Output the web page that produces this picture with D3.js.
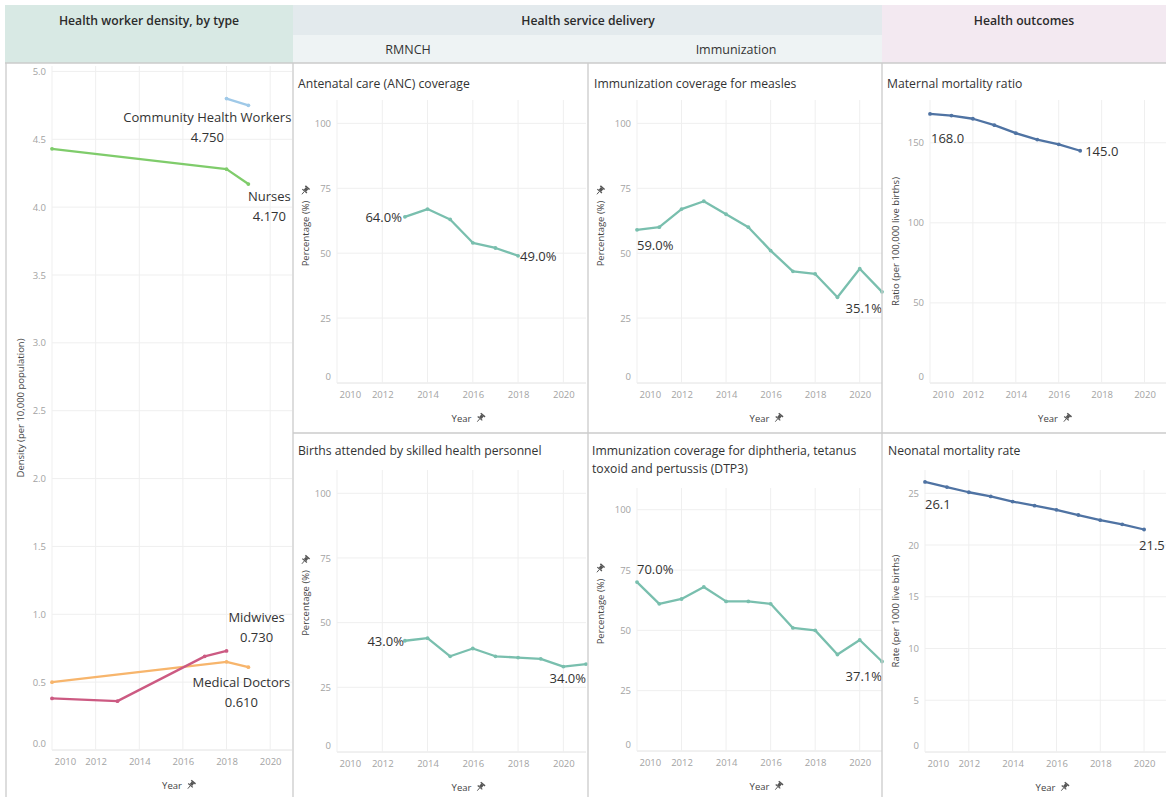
<!DOCTYPE html>
<html>
<head>
<meta charset="utf-8">
<script src="https://cdn.jsdelivr.net/npm/d3@7"></script>
<style>
  body { margin: 0; background: #fff; }
  text { font-family: "Open Sans", sans-serif; }
</style>
</head>
<body>
<svg id="chart" width="1166" height="797"></svg>
<script>
// tick labels
const yearTicks = [2010, 2012, 2014, 2016, 2018, 2020];
const pctTicks = [0, 25, 50, 75, 100];
const densityTicks = [0, 0.5, 1, 1.5, 2, 2.5, 3, 3.5, 4, 4.5, 5];
const mmrTicks = [0, 50, 100, 150];
const nmrTicks = [0, 5, 10, 15, 20, 25];

// health worker density (per 10,000)
const nurseYears = [2010, 2018, 2019];
const nurseValues = [4.43, 4.28, 4.17];
const chwYears = [2018, 2019];
const chwValues = [4.80, 4.75];
const midwifeYears = [2010, 2013, 2017, 2018];
const midwifeValues = [0.38, 0.36, 0.69, 0.73];
const doctorYears = [2010, 2018, 2019];
const doctorValues = [0.50, 0.65, 0.61];

// service delivery (%)
const ancYears = [2013, 2014, 2015, 2016, 2017, 2018];
const ancValues = [64, 67, 63, 54, 52, 49];
const measlesYears = [2010, 2011, 2012, 2013, 2014, 2015, 2016, 2017, 2018, 2019, 2020, 2021];
const measlesValues = [59, 60, 67, 70, 65, 60, 51, 43, 42, 33, 44, 35.1];
const birthsYears = [2013, 2014, 2015, 2016, 2017, 2018, 2019, 2020, 2021];
const birthsValues = [43, 44, 37, 40, 37, 36.5, 36, 33, 34];
const dtp3Years = [2010, 2011, 2012, 2013, 2014, 2015, 2016, 2017, 2018, 2019, 2020, 2021];
const dtp3Values = [70, 61, 63, 68, 62, 62, 61, 51, 50, 40, 46, 37.1];

// outcomes
const mmrYears = [2010, 2011, 2012, 2013, 2014, 2015, 2016, 2017];
const mmrValues = [168, 167, 165, 161, 156, 152, 149, 145];
const nmrYears = [2010, 2011, 2012, 2013, 2014, 2015, 2016, 2017, 2018, 2019, 2020];
const nmrValues = [26.1, 25.6, 25.1, 24.7, 24.2, 23.8, 23.4, 22.9, 22.4, 22.0, 21.5];

const svg = d3.select("#chart");
const teal = "#79bfae", blue = "#4f73a3";
const fmtPct = v => d3.format(".1f")(v) + "%";
const fmt1 = d3.format(".1f");
const fmt3 = d3.format(".3f");

// header bands
svg.append("rect").attr("x", 5).attr("y", 5).attr("width", 288).attr("height", 58).attr("fill", "#d8e9e4");
svg.append("rect").attr("x", 293).attr("y", 5).attr("width", 589).attr("height", 30).attr("fill", "#e3eaed");
svg.append("rect").attr("x", 293).attr("y", 35).attr("width", 589).attr("height", 28).attr("fill", "#eef3f4");
svg.append("rect").attr("x", 882).attr("y", 5).attr("width", 284).attr("height", 58).attr("fill", "#f3e9f1");

function header(txt, x, y) {
  svg.append("text").attr("x", x).attr("y", y).attr("text-anchor", "middle")
    .attr("dominant-baseline", "central").attr("font-size", 12.2).attr("font-weight", 600)
    .attr("fill", "#2b2b2b").text(txt);
}
header("Health worker density, by type", 149, 20);
header("Health service delivery", 588, 20);
header("Health outcomes", 1024, 20);
svg.append("text").attr("x", 408).attr("y", 49).attr("text-anchor", "middle")
  .attr("dominant-baseline", "central").attr("font-size", 12.5).attr("fill", "#333").text("RMNCH");
svg.append("text").attr("x", 736).attr("y", 49).attr("text-anchor", "middle")
  .attr("dominant-baseline", "central").attr("font-size", 12.5).attr("fill", "#333").text("Immunization");

// little pushpin icon like tableau's
function pin(g, x, y) {
  const p = g.append("g").attr("transform", `translate(${x},${y}) rotate(40)`).attr("fill", "#555");
  p.append("rect").attr("x", -2.8).attr("y", -4.6).attr("width", 5.6).attr("height", 1.5);
  p.append("rect").attr("x", -1.6).attr("y", -3.2).attr("width", 3.2).attr("height", 3.2);
  p.append("rect").attr("x", -3).attr("y", 0).attr("width", 6).attr("height", 1.2);
  p.append("line").attr("x1", 0).attr("x2", 0).attr("y1", 1.2).attr("y2", 4.8)
    .attr("stroke", "#555").attr("stroke-width", 0.9);
}

function panel(p) {
  const g = svg.append("g");
  const x = d3.scaleLinear().domain([2010, 2021]).range([p.left, p.right]);
  const y = d3.scaleLinear().domain([0, p.yMax]).range([p.base, p.top]);

  // title
  p.title.forEach((t, i) => {
    g.append("text").attr("x", p.titleX).attr("y", p.titleY + i * 18)
      .attr("dominant-baseline", "central").attr("font-size", 12.2).attr("fill", "#333").text(t);
  });

  // grid
  g.append("g").selectAll("line").data(p.yTicks).join("line")
    .attr("x1", p.left).attr("x2", p.right).attr("y1", d => y(d)).attr("y2", d => y(d))
    .attr("stroke", d => d === 0 ? "#e2e2e2" : "#efefef");
  g.append("g").selectAll("line").data(yearTicks).join("line")
    .attr("x1", d => x(d)).attr("x2", d => x(d)).attr("y1", p.top).attr("y2", p.base)
    .attr("stroke", "#efefef");

  // y axis
  const ya = g.append("g").attr("transform", `translate(${p.left - 6},0)`)
    .call(d3.axisLeft(y).tickValues(p.yTicks).tickSize(0).tickPadding(0).tickFormat(p.fmt));
  ya.select(".domain").remove();
  ya.selectAll("text").attr("fill", "#a3a3a3").attr("font-size", 9.5).attr("font-family", "Open Sans");
  ya.selectAll(".tick").filter(d => d === 0).select("text").attr("dy", "-0.4em");

  // x axis
  const xa = g.append("g").attr("transform", `translate(0,${p.base + 8})`)
    .call(d3.axisBottom(x).tickValues(yearTicks).tickSize(0).tickPadding(0).tickFormat(d3.format("d")));
  xa.select(".domain").remove();
  xa.selectAll("text").attr("fill", "#a3a3a3").attr("font-size", 9.5).attr("font-family", "Open Sans");
  xa.selectAll(".tick").filter(d => d === 2010).select("text").attr("text-anchor", "start").attr("dx", 2);

  // x title
  const cx = (p.left + p.right) / 2;
  const yt = g.append("text").attr("x", cx).attr("y", p.base + 35).attr("text-anchor", "middle")
    .attr("dominant-baseline", "central").attr("font-size", 9.5).attr("fill", "#444").text("Year");
  pin(g, cx + yt.node().getComputedTextLength() / 2 + 9, p.base + 35);

  // y title
  const cy = (p.top + p.base) / 2 - (p.yPin ? 8 : 0);
  const vt = g.append("text").attr("transform", `translate(${p.yTitleX},${cy}) rotate(-90)`)
    .attr("text-anchor", "middle").attr("dominant-baseline", "central")
    .attr("font-size", 9.5).attr("fill", "#444").text(p.yTitle);
  if (p.yPin) pin(g, p.yTitleX, cy - vt.node().getComputedTextLength() / 2 - 10);

  // series
  p.series.forEach(s => {
    const pts = s.years.map((yr, i) => [yr, s.values[i]]);
    g.append("path").datum(pts)
      .attr("d", d3.line().x(d => x(d[0])).y(d => y(d[1])))
      .attr("fill", "none").attr("stroke", s.color).attr("stroke-width", 2.3)
      .attr("stroke-linejoin", "round").attr("stroke-linecap", "round");
    g.append("g").selectAll("circle").data(pts).join("circle")
      .attr("cx", d => x(d[0])).attr("cy", d => y(d[1])).attr("r", 1.9).attr("fill", s.color);
    s.labels.forEach(l => {
      const d = pts[l.i];
      const lines = l.text(d[1]);
      lines.forEach((t, k) => {
        g.append("text").attr("x", x(d[0]) + l.dx).attr("y", y(d[1]) + l.dy + k * 20)
          .attr("text-anchor", l.anchor).attr("dominant-baseline", "central")
          .attr("font-size", 13).attr("fill", "#333").text(t);
      });
    });
  });
}

// left: health worker density
panel({
  left: 52, right: 292, top: 66, base: 750, yMax: 5.04,
  yTicks: densityTicks, fmt: d3.format(".1f"),
  title: [], titleX: 0, titleY: 0,
  yTitle: "Density (per 10,000 population)", yTitleX: 20, yPin: false,
  series: [
    { years: chwYears, values: chwValues, color: "#9fc9e8",
      labels: [{ i: 1, dx: -41, dy: 12, anchor: "middle", text: v => ["Community Health Workers", fmt3(v)] }] },
    { years: nurseYears, values: nurseValues, color: "#7fcc6b",
      labels: [{ i: 2, dx: 21, dy: 12, anchor: "middle", text: v => ["Nurses", fmt3(v)] }] },
    { years: doctorYears, values: doctorValues, color: "#f7b56c",
      labels: [{ i: 2, dx: -7, dy: 15, anchor: "middle", text: v => ["Medical Doctors", fmt3(v)] }] },
    { years: midwifeYears, values: midwifeValues, color: "#cc5a82",
      labels: [{ i: 3, dx: 30, dy: -34, anchor: "middle", text: v => ["Midwives", fmt3(v)] }] }
  ]
});

panel({
  left: 337, right: 586, top: 100, base: 383, yMax: 109,
  yTicks: pctTicks, fmt: d3.format("d"),
  title: ["Antenatal care (ANC) coverage"], titleX: 298, titleY: 83,
  yTitle: "Percentage (%)", yTitleX: 305, yPin: true,
  series: [{ years: ancYears, values: ancValues, color: teal,
    labels: [{ i: 0, dx: -3, dy: 0, anchor: "end", text: v => [fmtPct(v)] },
             { i: 5, dx: 2, dy: 0, anchor: "start", text: v => [fmtPct(v)] }] }]
});

panel({
  left: 637, right: 882, top: 100, base: 383, yMax: 109,
  yTicks: pctTicks, fmt: d3.format("d"),
  title: ["Immunization coverage for measles"], titleX: 594, titleY: 83,
  yTitle: "Percentage (%)", yTitleX: 600, yPin: true,
  series: [{ years: measlesYears, values: measlesValues, color: teal,
    labels: [{ i: 0, dx: 0, dy: 15, anchor: "start", text: v => [fmtPct(v)] },
             { i: 11, dx: 0, dy: 16, anchor: "end", text: v => [fmtPct(v)] }] }]
});

panel({
  left: 930, right: 1166, top: 100, base: 383, yMax: 176.7,
  yTicks: mmrTicks, fmt: d3.format("d"),
  title: ["Maternal mortality ratio"], titleX: 887, titleY: 83,
  yTitle: "Ratio (per 100,000 live births)", yTitleX: 895, yPin: false,
  series: [{ years: mmrYears, values: mmrValues, color: blue,
    labels: [{ i: 0, dx: 1, dy: 24, anchor: "start", text: v => [fmt1(v)] },
             { i: 7, dx: 5, dy: 0, anchor: "start", text: v => [fmt1(v)] }] }]
});

panel({
  left: 337, right: 586, top: 470, base: 752, yMax: 109,
  yTicks: pctTicks, fmt: d3.format("d"),
  title: ["Births attended by skilled health personnel"], titleX: 298, titleY: 450,
  yTitle: "Percentage (%)", yTitleX: 305, yPin: true,
  series: [{ years: birthsYears, values: birthsValues, color: teal,
    labels: [{ i: 0, dx: -1, dy: 0, anchor: "end", text: v => [fmtPct(v)] },
             { i: 8, dx: 0, dy: 14, anchor: "end", text: v => [fmtPct(v)] }] }]
});

panel({
  left: 637, right: 882, top: 488, base: 751, yMax: 109,
  yTicks: pctTicks, fmt: d3.format("d"),
  title: ["Immunization coverage for diphtheria, tetanus", "toxoid and pertussis (DTP3)"], titleX: 592, titleY: 450,
  yTitle: "Percentage (%)", yTitleX: 600, yPin: true,
  series: [{ years: dtp3Years, values: dtp3Values, color: teal,
    labels: [{ i: 0, dx: 0, dy: -13, anchor: "start", text: v => [fmtPct(v)] },
             { i: 11, dx: 0, dy: 15, anchor: "end", text: v => [fmtPct(v)] }] }]
});

panel({
  left: 925, right: 1166, top: 470, base: 752, yMax: 27.25,
  yTicks: nmrTicks, fmt: d3.format("d"),
  title: ["Neonatal mortality rate"], titleX: 888, titleY: 450,
  yTitle: "Rate (per 1000 live births)", yTitleX: 895, yPin: false,
  series: [{ years: nmrYears, values: nmrValues, color: blue,
    labels: [{ i: 0, dx: 0, dy: 22, anchor: "start", text: v => [fmt1(v)] },
             { i: 10, dx: -5, dy: 15, anchor: "start", text: v => [fmt1(v)] }] }]
});

// panel borders
const border = "#cbcbcb";
[[6, 63, 6, 797], [293, 63, 293, 797], [588, 63, 588, 797], [882, 63, 882, 797],
 [5, 63, 1166, 63], [293, 433, 1166, 433]].forEach(l => {
  svg.append("line").attr("x1", l[0]).attr("y1", l[1]).attr("x2", l[2]).attr("y2", l[3])
    .attr("stroke", border).attr("stroke-width", 1.3);
});
</script>
</body>
</html>
